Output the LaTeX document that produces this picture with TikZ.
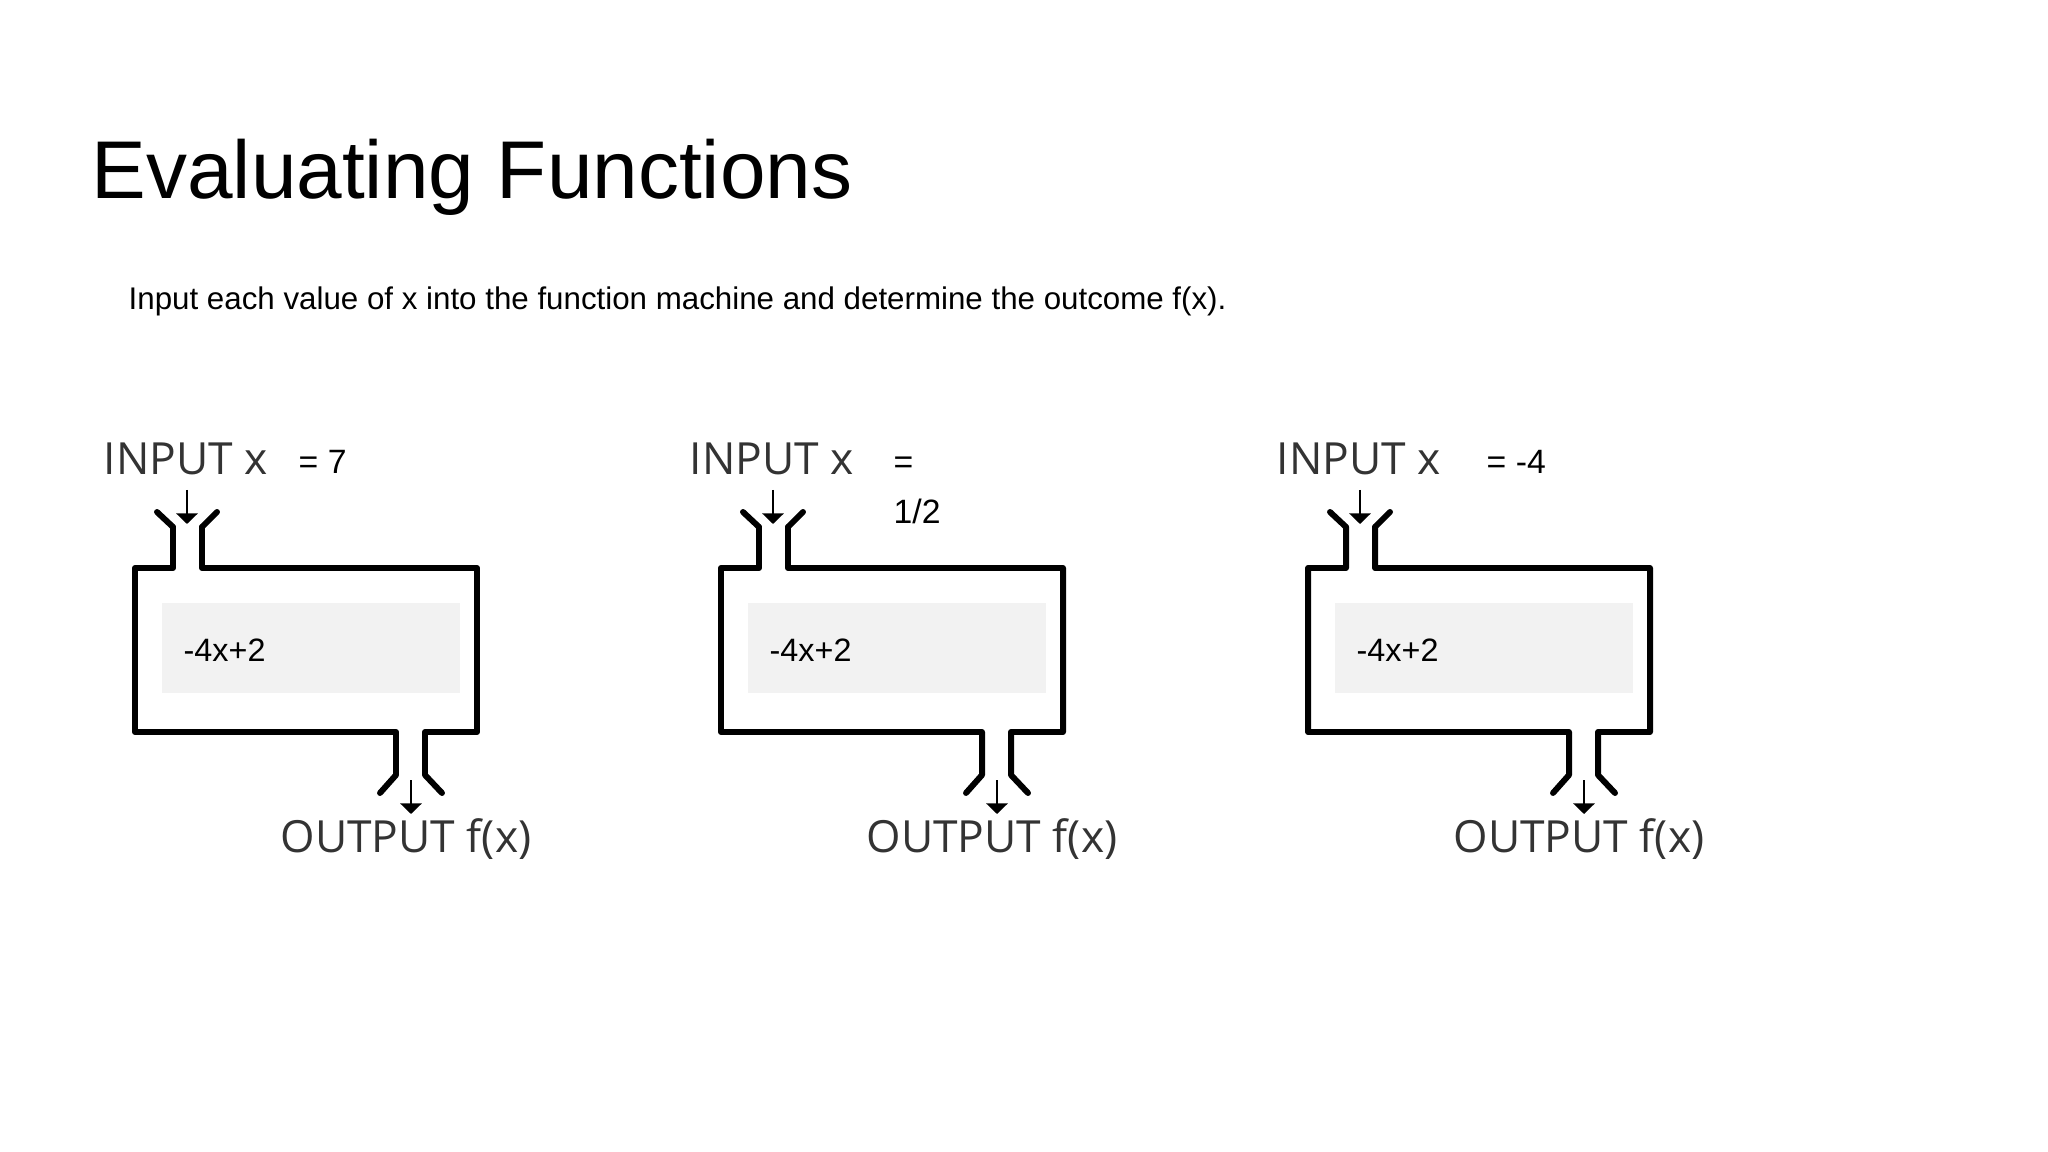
\documentclass[tikz,border=0pt]{standalone}
\usepackage{fontspec}
\setmainfont{Liberation Sans}
\newfontfamily\labelfont{Open Sans}
\usetikzlibrary{arrows.meta,positioning}

\begin{document}
\begin{tikzpicture}[x=0.01cm, y=-0.01cm, >={Triangle[width=6pt,length=3pt]}]
	\tikzset{
		machine/.style={line width=1.7pt, line join=round, line cap=round},
		feed/.style={line width=0.7pt, ->},
		slot/.style={fill=black!5, draw=none},
		tag/.style={anchor=base west, inner sep=0pt, font=\labelfont\fontsize{12.6}{14}\selectfont, text=black!80},
		value/.style={anchor=base west, inner sep=0pt, font=\fontsize{9.6}{11}\selectfont},
	}
	\useasboundingbox (0,0) rectangle (2048,1152);
	\node[anchor=base west, inner sep=0pt, font=\fontsize{23.3}{26}\selectfont] (title) at (91,199) {Evaluating Functions};
	\node[anchor=base west, inner sep=0pt, font=\fontsize{8.9}{11}\selectfont] (task) at (128,310) {Input each value of x into the function machine and determine the outcome f(x).};
	%three function machines
	\foreach \i/\dx/\val in {1/0/= 7, 2/586/=, 3/1173/= -4}{
		\begin{scope}[xshift=\dx*0.01cm]
			\fill[slot] (162,603) rectangle (460,693);
			\node[anchor=west, inner sep=0pt, font=\fontsize{9.2}{11}\selectfont] (rule\i) at (183,650) {-4x+2};
			\draw[machine] (173,527) -- (173,568) -- (135,568) -- (135,732) -- (396,732) -- (396,775) -- (380,793);
			\draw[machine] (202,527) -- (202,568) -- (477,568) -- (477,732) -- (425,732) -- (425,775) -- (442,793);
			\draw[machine] (173,527) -- (157,512);
			\draw[machine] (202,527) -- (217,512);
			\node[tag] (in\i) at (103,475) {INPUT x};
			\node[tag] (out\i) at (280,852) {OUTPUT f(x)};
			\coordinate (inA\i) at (187,490);
			\coordinate (inB\i) at (187,524);
			\coordinate (outA\i) at (411,780);
			\coordinate (outB\i) at (411,814);
			\draw[feed] (inA\i) -- (inB\i);
			\draw[feed] (outA\i) -- (outB\i);
		\end{scope}
	}
	\node[value] (x1) at (298,474) {= 7};
	\node[value] (x2) at (893,474) {=};
	\node[value, below=14pt of x2.base west, anchor=base west] (x2b) {1/2};
	\node[value] (x3) at (1486,474) {= -4};
\end{tikzpicture}
\end{document}
